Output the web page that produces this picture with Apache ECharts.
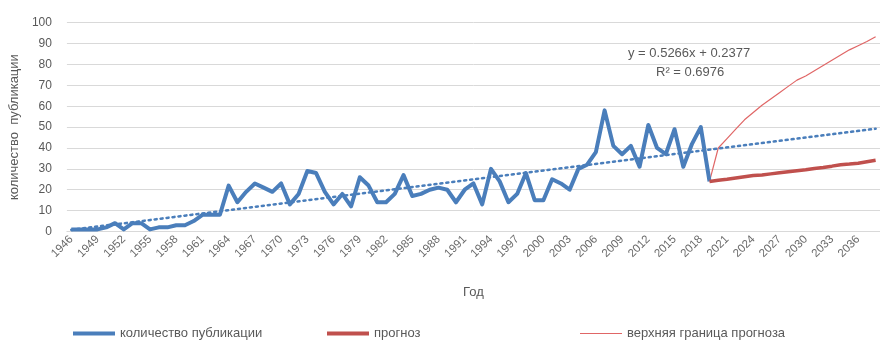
<!DOCTYPE html>
<html>
<head>
<meta charset="utf-8">
<script src="https://cdn.jsdelivr.net/npm/echarts@6/dist/echarts.min.js"></script>
<style>
  html, body { margin: 0; padding: 0; background: #fff; }
  #chart { width: 880px; height: 340px; }
</style>
</head>
<body>
<div id="chart"></div>
<script>
// Years on the category axis
const years = [];
for (let y = 1946; y <= 2038; y++) years.push(String(y));

// Publications per year, 1946–2019
const publications = [
  1, 1, 1, 1, 2, 4, 1, 4, 4, 1,
  2, 2, 3, 3, 5, 8, 8, 8, 22, 14,
  19, 23, 21, 19, 23, 13, 18, 29, 28, 19,
  13, 18, 12, 26, 22, 14, 14, 18, 27, 17,
  18, 20, 21, 20, 14, 20, 23, 13, 30, 24,
  14, 18, 28, 15, 15, 25, 23, 20, 30, 32,
  38, 58, 41, 37, 41, 31, 51, 40, 37, 49,
  31, 42, 50, 24
];

// Forecast, 2019–2038
const forecastYearsFrom = 2019;
const forecast = [
  24, 24.5, 25, 25.6, 26.2, 26.8, 27.1, 27.6, 28.1, 28.6,
  29.1, 29.6, 30.2, 30.7, 31.3, 32.0, 32.3, 32.7, 33.4, 34.1
];

// Upper bound of the forecast, 2019–2038
const upperBound = [
  24, 40, 44.5, 49, 53.5, 57, 60.5, 63.5, 66.5, 69.5,
  72.5, 74.5, 77, 79.5, 82, 84.5, 87, 89, 91, 93.3
];

// Linear trend y = a·x + b, x = 1, 2, ... over the years
const trendA = 0.5266;
const trendB = 0.2377;

const yTicks = { min: 0, max: 100, interval: 10 };

const names = {
  pubs: 'количество публикации',
  fc: 'прогноз',
  up: 'верхняя граница прогноза',
  trend: 'Линейная (количество публикации)'
};

function padFrom(startYear, arr) {
  const out = years.map(() => null);
  const off = startYear - 1946;
  arr.forEach((v, i) => { out[off + i] = v; });
  return out;
}

const trendData = years.map(() => null);
trendData[0] = +(trendA * 1 + trendB).toFixed(4);
trendData[years.length - 1] = +(trendA * years.length + trendB).toFixed(4);

const textColor = '#595959';
const font = 'Liberation Sans, Arial, sans-serif';

const chart = echarts.init(document.getElementById('chart'), null, { renderer: 'canvas' });

function legendAt(left, name, h) {
  return {
    left: left, top: 327, padding: 0,
    data: [name],
    icon: 'rect',
    itemWidth: 42, itemHeight: h, itemGap: 5,
    selectedMode: false,
    textStyle: { color: textColor, fontSize: 13, fontFamily: font, padding: [0, 0, 0, 0] }
  };
}

chart.setOption({
  animation: false,
  backgroundColor: '#ffffff',
  grid: { left: 62.3, top: 22.7, width: 823.7, height: 208.8 },
  legend: [
    legendAt(73, names.pubs, 4),
    legendAt(327, names.fc, 4),
    legendAt(580, names.up, 1.2)
  ],
  xAxis: {
    type: 'category',
    data: years,
    boundaryGap: true,
    name: 'Год',
    nameLocation: 'middle',
    nameGap: 54,
    nameTextStyle: { color: textColor, fontSize: 13, fontFamily: font },
    axisLine: { lineStyle: { color: '#d9d9d9' } },
    axisTick: { show: false },
    axisLabel: {
      interval: 2, rotate: 45, color: '#6a6a6a', fontSize: 11.5,
      fontFamily: font, margin: 6
    },
    splitLine: { show: false }
  },
  yAxis: {
    type: 'value',
    min: yTicks.min, max: yTicks.max, interval: yTicks.interval,
    name: 'количество  публикации',
    nameLocation: 'middle',
    nameGap: 42,
    nameTextStyle: { color: textColor, fontSize: 13, fontFamily: font },
    axisLine: { show: false },
    axisTick: { show: false },
    axisLabel: { color: textColor, fontSize: 12, fontFamily: font, margin: 15 },
    splitLine: { lineStyle: { color: '#d9d9d9', width: 1 } }
  },
  series: [
    {
      name: names.up, type: 'line', data: padFrom(forecastYearsFrom, upperBound),
      symbol: 'none', color: '#e06666',
      lineStyle: { width: 1.2, color: '#e06666' }, z: 2
    },
    {
      name: names.trend, type: 'line', data: trendData, connectNulls: true,
      symbol: 'none', color: '#4a7ebb',
      lineStyle: { width: 2.6, type: [2, 4], cap: 'round', color: '#4a7ebb' }, z: 3
    },
    {
      name: names.pubs, type: 'line', data: padFrom(1946, publications),
      symbol: 'none', color: '#4a7ebb',
      lineStyle: { width: 4, color: '#4a7ebb', join: 'round' }, z: 4
    },
    {
      name: names.fc, type: 'line', data: padFrom(forecastYearsFrom, forecast),
      symbol: 'none', color: '#c0504d',
      lineStyle: { width: 3.5, color: '#c0504d' }, z: 5
    }
  ],
  graphic: [
    {
      type: 'text', left: 628, top: 47,
      style: { text: 'y = 0.5266x + 0.2377', fill: textColor, font: '13px ' + font }
    },
    {
      type: 'text', left: 656, top: 66,
      style: { text: 'R² = 0.6976', fill: textColor, font: '13px ' + font }
    }
  ]
});
</script>
</body>
</html>
